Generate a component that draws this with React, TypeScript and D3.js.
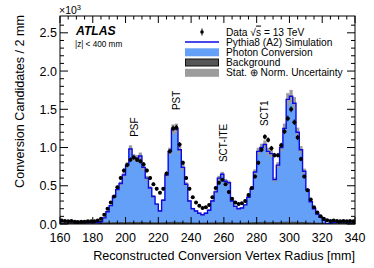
import React, { useEffect, useRef } from "react";
import * as d3 from "d3";

// 2 mm bins from 160 to 340 mm, values in units of 10^3
const binLow = d3.range(160, 340, 2);

const totalMC = [
  0.04, 0.035, 0.035, 0.03, 0.03, 0.025, 0.025, 0.02, 0.025, 0.02,
  0.02, 0.02, 0.03, 0.08, 0.16, 0.24, 0.36, 0.45, 0.53, 0.64,
  0.77, 0.98, 0.87, 0.86, 0.89, 0.74, 0.6, 0.47, 0.36, 0.26,
  0.17, 0.31, 0.64, 0.95, 1.24, 1.25, 0.97, 0.74, 0.52, 0.3,
  0.2, 0.17, 0.14, 0.12, 0.14, 0.18, 0.3, 0.42, 0.6, 0.65,
  0.56, 0.54, 0.3, 0.23, 0.2, 0.21, 0.25, 0.35, 0.46, 0.68,
  0.95, 1.0, 1.04, 0.95, 0.92, 0.58, 0.77, 1.0, 1.25, 1.63,
  1.67, 1.58, 1.2, 0.97, 0.69, 0.45, 0.29, 0.2, 0.13, 0.09,
  0.05, 0.005, 0.01, 0.02, 0.02, 0.025, 0.025, 0.03, 0.025, 0.03,
];

const background = [
  0.015, 0.014, 0.016, 0.013, 0.015, 0.012, 0.014, 0.012, 0.013, 0.012,
  0.012, 0.013, 0.014, 0.015, 0.016, 0.015, 0.017, 0.016, 0.018, 0.017,
  0.018, 0.02, 0.019, 0.018, 0.02, 0.019, 0.018, 0.017, 0.016, 0.016,
  0.015, 0.016, 0.018, 0.02, 0.022, 0.021, 0.02, 0.018, 0.016, 0.015,
  0.014, 0.014, 0.013, 0.013, 0.014, 0.014, 0.015, 0.016, 0.017, 0.018,
  0.017, 0.017, 0.015, 0.014, 0.014, 0.014, 0.015, 0.016, 0.017, 0.018,
  0.02, 0.021, 0.022, 0.021, 0.02, 0.018, 0.019, 0.021, 0.022, 0.024,
  0.024, 0.023, 0.021, 0.02, 0.018, 0.016, 0.014, 0.013, 0.012, 0.011,
  0.01, 0.004, 0.008, 0.012, 0.013, 0.014, 0.013, 0.014, 0.013, 0.014,
];

const dataVals = [
  0.045, 0.04, 0.035, 0.04, 0.03, 0.025, 0.03, 0.03, 0.035, 0.035,
  0.035, 0.045, 0.07, 0.12, 0.2, 0.28, 0.36, 0.48, 0.6, 0.7,
  0.77, 0.84, 0.87, 0.84, 0.82, 0.78, 0.7, 0.6, 0.52, 0.46,
  0.41, 0.46, 0.66, 0.95, 1.25, 1.26, 1.04, 0.8, 0.6, 0.46,
  0.35, 0.28, 0.24, 0.21, 0.22, 0.25, 0.35, 0.47, 0.54, 0.58,
  0.52, 0.42, 0.33, 0.28, 0.26, 0.27, 0.3, 0.38, 0.47, 0.62,
  0.8, 0.97, 1.14, 1.1, 0.99, 0.9, 0.9, 1.03, 1.21, 1.38,
  1.5, 1.33, 1.13, 0.85, 0.62, 0.44, 0.32, 0.22, 0.15, 0.1,
  0.07, 0.05, 0.04, 0.045, 0.04, 0.035, 0.04, 0.035, 0.04, 0.035,
];

const xTickLabels = [160, 180, 200, 220, 240, 260, 280, 300, 320, 340];
const yTickLabels = [0, 0.5, 1.0, 1.5, 2.0, 2.5];

const detectorNames = ["PSF", "PST", "SCT-ITE", "SCT1"];
const detectorRadius = [207.6, 233.2, 261.9, 286.9];
const detectorLevel = [1.14, 1.49, 0.81, 1.28];

const legendLabels = [
  "Pythia8 (A2) Simulation",
  "Photon Conversion",
  "Background",
  "Stat. \u2295 Norm. Uncertainty",
];

const normUnc = 0.05;

const W = 374;
const H = 268;
const L = 60, R = 355, T = 16, B = 224;
const FONT = "'Liberation Sans', Arial, Helvetica, sans-serif";

export default function App() {
  const ref = useRef<SVGSVGElement>(null);

  useEffect(() => {
    const svg = d3.select(ref.current);
    svg.selectAll("*").remove();

    const x = d3.scaleLinear().domain([160, 340]).range([L, R]);
    const y = d3.scaleLinear().domain([0, 2.72]).range([B, T]);

    svg.append("defs").append("clipPath").attr("id", "plotclip")
      .append("rect").attr("x", L).attr("y", T).attr("width", R - L).attr("height", B - T);

    const plot = svg.append("g").attr("clip-path", "url(#plotclip)");

    // step helpers
    const stepPts = (vals: number[]) => {
      const pts: [number, number][] = [];
      vals.forEach((v, i) => {
        pts.push([binLow[i], v]);
        pts.push([binLow[i] + 2, v]);
      });
      return pts;
    };
    const line = d3.line<[number, number]>().x((d) => x(d[0])).y((d) => y(d[1]));

    const bandPts = (lo: number[], hi: number[]) => {
      const pts: [number, number, number][] = [];
      hi.forEach((v, i) => {
        pts.push([binLow[i], lo[i], v]);
        pts.push([binLow[i] + 2, lo[i], v]);
      });
      return pts;
    };
    const area = d3.area<[number, number, number]>()
      .x((d) => x(d[0])).y0((d) => y(d[1])).y1((d) => y(d[2]));

    // photon conversion (stacked on background)
    plot.append("path")
      .attr("d", area(bandPts(background, totalMC)))
      .attr("fill", "#64a0f8");

    // background
    plot.append("path")
      .attr("d", area(bandPts(background.map(() => 0), background)))
      .attr("fill", "#555")
      .attr("stroke", "#111")
      .attr("stroke-width", 0.6);

    // uncertainty band
    const halfBand = (d: number) => Math.max(d * normUnc, 0.012);
    plot.append("g").selectAll("rect")
      .data(totalMC)
      .join("rect")
      .attr("x", (d, i) => x(binLow[i]))
      .attr("width", (d, i) => x(binLow[i] + 2) - x(binLow[i]))
      .attr("y", (d) => y(d + halfBand(d)))
      .attr("height", (d) => y(Math.max(d - halfBand(d), 0)) - y(d + halfBand(d)))
      .attr("fill", "#9c9c9c");

    // simulation line
    plot.append("path")
      .attr("d", line(stepPts(totalMC)))
      .attr("fill", "none")
      .attr("stroke", "#0a0ae6")
      .attr("stroke-width", 1.4);

    // data
    const dg = plot.append("g");
    dataVals.forEach((v, i) => {
      const cx = x(binLow[i] + 1);
      const err = Math.sqrt(v * 1000) / 1000;
      dg.append("line")
        .attr("x1", cx).attr("x2", cx)
        .attr("y1", y(v + err)).attr("y2", y(v - err))
        .attr("stroke", "#000").attr("stroke-width", 1);
      dg.append("circle").attr("cx", cx).attr("cy", y(v)).attr("r", 2).attr("fill", "#000");
    });

    // frame and ticks
    const axes = svg.append("g").attr("stroke", "#000").attr("stroke-width", 1);
    axes.append("rect").attr("x", L).attr("y", T).attr("width", R - L).attr("height", B - T)
      .attr("fill", "none");
    d3.range(160, 341, 5).forEach((v) => {
      const len = v % 20 === 0 ? 7 : 3.5;
      axes.append("line").attr("x1", x(v)).attr("x2", x(v)).attr("y1", B).attr("y2", B - len);
      axes.append("line").attr("x1", x(v)).attr("x2", x(v)).attr("y1", T).attr("y2", T + len);
    });
    d3.range(0, 27).forEach((k) => {
      const v = k / 10;
      const len = k % 5 === 0 ? 8 : 4;
      axes.append("line").attr("x1", L).attr("x2", L + len).attr("y1", y(v)).attr("y2", y(v));
      axes.append("line").attr("x1", R).attr("x2", R - len).attr("y1", y(v)).attr("y2", y(v));
    });

    const txt = svg.append("g").attr("font-family", FONT).attr("fill", "#000");

    xTickLabels.forEach((v) => {
      txt.append("text").attr("x", x(v)).attr("y", 241.5).attr("text-anchor", "middle")
        .attr("font-size", 12.5).text(v);
    });
    yTickLabels.forEach((v) => {
      txt.append("text").attr("x", 57).attr("y", y(v) + 4.5).attr("text-anchor", "end")
        .attr("font-size", 12.5).text(d3.format(".1f")(v));
    });

    // multiplier
    const mult = txt.append("text").attr("x", 59).attr("y", 14).attr("font-size", 10.5);
    mult.append("tspan").text("\u00d710");
    mult.append("tspan").attr("dy", -4).attr("font-size", 7.5).text("3");

    txt.append("text").attr("x", R).attr("y", 259.5).attr("text-anchor", "end")
      .attr("font-size", 12.6).text("Reconstructed Conversion Vertex Radius [mm]");
    txt.append("text").attr("transform", `translate(24,${T - 1}) rotate(-90)`)
      .attr("text-anchor", "end").attr("font-size", 12.6).text("Conversion Candidates / 2 mm");

    // ATLAS label
    txt.append("text").attr("x", 76).attr("y", 35).attr("font-size", 12.2)
      .attr("font-weight", "bold").attr("font-style", "italic").text("ATLAS");
    txt.append("text").attr("x", 75).attr("y", 47).attr("font-size", 8.2).text("|z| < 400 mm");

    // detector labels
    detectorNames.forEach((n, i) => {
      txt.append("text")
        .attr("transform", `translate(${x(detectorRadius[i])},${y(detectorLevel[i])}) rotate(-90)`)
        .attr("font-size", 10).text(n);
    });

    // legend
    const lg = svg.append("g").attr("font-family", FONT).attr("font-size", 10.2);
    const rowY = [32, 42, 52.3, 62.5, 72.8];
    lg.append("line").attr("x1", 202).attr("x2", 202).attr("y1", rowY[0] - 3.5).attr("y2", rowY[0] + 3.5)
      .attr("stroke", "#000");
    lg.append("circle").attr("cx", 202).attr("cy", rowY[0]).attr("r", 1.8).attr("fill", "#000");
    const dataTxt = lg.append("text").attr("x", 226).attr("y", rowY[0] + 3.6);
    dataTxt.append("tspan").text("Data \u221a");
    dataTxt.append("tspan").style("text-decoration", "overline").text("s");
    dataTxt.append("tspan").text(" =  13 TeV");

    lg.append("line").attr("x1", 185).attr("x2", 219).attr("y1", rowY[1]).attr("y2", rowY[1])
      .attr("stroke", "#0a0ae6").attr("stroke-width", 1.4);
    lg.append("rect").attr("x", 185).attr("y", rowY[2] - 4).attr("width", 34).attr("height", 8)
      .attr("fill", "#64a0f8");
    lg.append("rect").attr("x", 185.5).attr("y", rowY[3] - 3.5).attr("width", 33).attr("height", 7)
      .attr("fill", "#555").attr("stroke", "#111").attr("stroke-width", 1);
    lg.append("rect").attr("x", 185).attr("y", rowY[4] - 4).attr("width", 34).attr("height", 8)
      .attr("fill", "#9c9c9c");
    legendLabels.forEach((t, i) => {
      lg.append("text").attr("x", 226).attr("y", rowY[i + 1] + 3.6).text(t);
    });
  }, []);

  return (
    <svg
      ref={ref}
      width={W}
      height={H}
      style={{ position: "absolute", left: 0, top: 0, background: "#fff" }}
    />
  );
}
